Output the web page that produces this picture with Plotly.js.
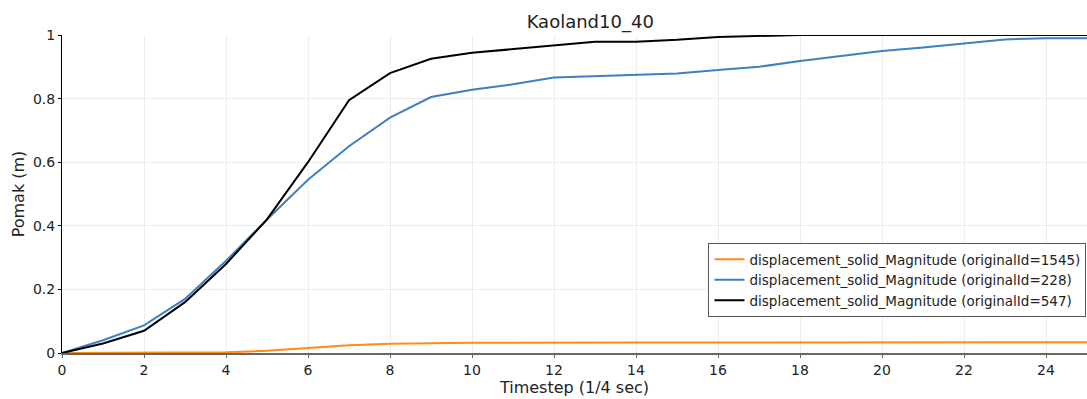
<!DOCTYPE html>
<html>
<head>
<meta charset="utf-8">
<script src="https://cdn.plot.ly/plotly-3.0.1.min.js"></script>
<style>html,body{margin:0;padding:0;background:#fff;}#chart{width:1087px;height:399px;}</style>
</head>
<body>
<div id="chart"></div>
<script>
const timesteps = [0,1,2,3,4,5,6,7,8,9,10,11,12,13,14,15,16,17,18,19,20,21,22,23,24,25];
const seriesNames = [
  "displacement_solid_Magnitude (originalId=1545)",
  "displacement_solid_Magnitude (originalId=228)",
  "displacement_solid_Magnitude (originalId=547)"
];
const disp1545 = [0,0,0,0.0005,0.002,0.007,0.015,0.024,0.029,0.031,0.032,0.032,0.033,0.033,0.033,0.033,0.033,0.033,0.033,0.033,0.033,0.033,0.033,0.034,0.034,0.034];
const disp228 = [0,0.04,0.087,0.17,0.29,0.42,0.545,0.65,0.74,0.805,0.828,0.845,0.866,0.871,0.874,0.879,0.89,0.9,0.918,0.935,0.95,0.961,0.974,0.986,0.99,0.99];
const disp547 = [0,0.03,0.07,0.16,0.28,0.42,0.60,0.795,0.88,0.925,0.944,0.956,0.968,0.979,0.979,0.985,0.994,0.997,1.0,1.0,1.0,1.0,1.0,1.0,1.0,1.0];
const colors = ["#ff8c1a", "#3d80c0", "#000000"];
const titleText = "Kaoland10_40";
const xTitle = "Timestep (1/4 sec)";
const yTitle = "Pomak (m)";

const font = "DejaVu Sans, sans-serif";
const traces = [disp1545, disp228, disp547].map((ys, i) => ({
  x: timesteps, y: ys, type: "scatter", mode: "lines",
  name: seriesNames[i], line: {color: colors[i], width: 2}
}));

const layout = {
  width: 1087, height: 399,
  margin: {l: 62, r: 0, t: 35, b: 46},
  paper_bgcolor: "#fff", plot_bgcolor: "#fff",
  font: {family: font, color: "#222", size: 14},
  title: {text: titleText, x: 0.543, xanchor: "center", y: 0.945, yanchor: "middle", font: {family: font, size: 18, color: "#222"}},
  xaxis: {
    range: [0, 25], dtick: 2, tick0: 0,
    showgrid: true, gridcolor: "#ececec", gridwidth: 1,
    zeroline: false, showline: true, linecolor: "#666", linewidth: 2,
    ticks: "outside", ticklen: 3, tickcolor: "#666",
    tickfont: {family: font, size: 14, color: "#222"},
    title: {text: xTitle, standoff: 2, font: {family: font, size: 16, color: "#222"}}
  },
  yaxis: {
    range: [0, 1], dtick: 0.2, tick0: 0,
    showgrid: true, gridcolor: "#ececec", gridwidth: 1,
    zeroline: false, showline: true, linecolor: "#000", linewidth: 1,
    ticks: "outside", ticklen: 3, tickcolor: "#000",
    tickfont: {family: font, size: 14, color: "#222"},
    title: {text: yTitle, standoff: 4, font: {family: font, size: 16, color: "#222"}}
  },
  showlegend: true,
  legend: {
    x: 0.9995, xanchor: "right", y: 0.346, yanchor: "top",
    bgcolor: "#fff", bordercolor: "#555", borderwidth: 1,
    font: {family: font, size: 13.5, color: "#222"},
    tracegroupgap: 0, itemwidth: 30
  }
};
Plotly.newPlot("chart", traces, layout, {displayModeBar: false, staticPlot: true});
</script>
</body>
</html>
